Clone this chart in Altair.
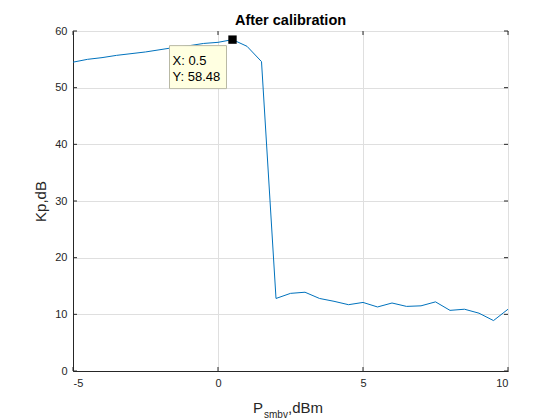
import altair as alt
import pandas as pd

# ---- data ----
p_smbv = [-5, -4.5, -4, -3.5, -3, -2.5, -2, -1.5, -1, -0.5, 0, 0.5, 1, 1.5,
          2, 2.5, 3, 3.5, 4, 4.5, 5, 5.5, 6, 6.5, 7, 7.5, 8, 8.5, 9, 9.5, 10]
kp_db = [54.5, 55.0, 55.3, 55.7, 56.0, 56.3, 56.7, 57.1, 57.4, 57.8, 58.0, 58.48, 57.3, 54.6,
         12.8, 13.7, 13.9, 12.8, 12.3, 11.7, 12.1, 11.3, 12.0, 11.4, 11.5, 12.2, 10.7, 10.9, 10.2, 8.9, 10.9]
x_ticks = [-5, 0, 5, 10]
y_ticks = [0, 10, 20, 30, 40, 50, 60]
tip_x = [0.5]
tip_y = [58.48]
tip_lines = ["X: 0.5", "Y: 58.48"]
title_text = "After calibration"

W, H = 435, 340
FONT = "Liberation Sans"
AX = "#262626"
BLUE = "#0072BD"

df = pd.DataFrame({"x": p_smbv, "y": kp_db})
tip = pd.DataFrame({"x": tip_x, "y": tip_y})
xt = pd.DataFrame({"v": x_ticks})
yt = pd.DataFrame({"v": y_ticks})

xs = alt.Scale(domain=[-5, 10], nice=False, zero=False)
ys = alt.Scale(domain=[0, 60], nice=False, zero=False)

xaxis = alt.Axis(values=x_ticks, grid=True, gridColor="#dfdfdf", ticks=False,
                 labelFontSize=11, labelColor=AX, labelFont=FONT, labelPadding=6,
                 labelExpr="'' + datum.value",
                 domainColor=AX, title=None)
yaxis = alt.Axis(values=y_ticks, grid=True, gridColor="#dfdfdf", ticks=False,
                 labelFontSize=11, labelColor=AX, labelFont=FONT, labelPadding=6,
                 labelExpr="'' + datum.value",
                 domainColor=AX, title="Kp,dB", titleFont=FONT, titleFontSize=15,
                 titleFontWeight="normal", titleColor=AX, titleAngle=270,
                 titleX=-33, titleY=H / 2, titleAlign="center", titleBaseline="middle")

line = alt.Chart(df).mark_line(color=BLUE, strokeWidth=1, clip=True).encode(
    x=alt.X("x:Q", scale=xs, axis=xaxis),
    y=alt.Y("y:Q", scale=ys, axis=yaxis),
)

# inward ticks on all four sides (MATLAB box style)
tb = alt.Chart(xt).mark_rule(color=AX, strokeWidth=1).encode(
    x=alt.X("v:Q", scale=xs), y=alt.value(H), y2=alt.value(H - 4))
tt = alt.Chart(xt).mark_rule(color=AX, strokeWidth=1).encode(
    x=alt.X("v:Q", scale=xs), y=alt.value(0), y2=alt.value(4))
tl = alt.Chart(yt).mark_rule(color=AX, strokeWidth=1).encode(
    y=alt.Y("v:Q", scale=ys), x=alt.value(0), x2=alt.value(4))
tr = alt.Chart(yt).mark_rule(color=AX, strokeWidth=1).encode(
    y=alt.Y("v:Q", scale=ys), x=alt.value(W), x2=alt.value(W - 4))

marker = alt.Chart(tip).mark_square(size=70, color="black", opacity=1).encode(
    x=alt.X("x:Q", scale=xs), y=alt.Y("y:Q", scale=ys))

box = alt.Chart(tip).mark_rect(fill="#ffffe1", stroke="#b9b9a5", strokeWidth=1,
                               xOffset=-63, x2Offset=-6, yOffset=6, y2Offset=49).encode(
    x=alt.X("x:Q", scale=xs), x2="x:Q",
    y=alt.Y("y:Q", scale=ys), y2="y:Q")

t1 = alt.Chart(tip).mark_text(text=tip_lines[0], align="left", baseline="middle",
                              dx=-60, dy=21, fontSize=13, font=FONT, color="black").encode(
    x=alt.X("x:Q", scale=xs), y=alt.Y("y:Q", scale=ys))
t2 = alt.Chart(tip).mark_text(text=tip_lines[1], align="left", baseline="middle",
                              dx=-60, dy=37, fontSize=13, font=FONT, color="black").encode(
    x=alt.X("x:Q", scale=xs), y=alt.Y("y:Q", scale=ys))

# title
ttl = alt.Chart(tip).mark_text(text=title_text, align="center", baseline="alphabetic",
                               fontSize=14.5, fontWeight="bold", font=FONT, color="black").encode(
    x=alt.value(W / 2), y=alt.value(-6.5))

# x-axis title with subscript
lab_p = alt.Chart(tip).mark_text(text="P", align="left", baseline="alphabetic",
                                 fontSize=15, font=FONT, color=AX).encode(
    x=alt.value(180), y=alt.value(H + 42))
lab_s = alt.Chart(tip).mark_text(text="smbv", align="left", baseline="alphabetic",
                                 fontSize=10, font=FONT, color=AX).encode(
    x=alt.value(191), y=alt.value(H + 47))
lab_u = alt.Chart(tip).mark_text(text=",dBm", align="left", baseline="alphabetic",
                                 fontSize=15, font=FONT, color=AX).encode(
    x=alt.value(215), y=alt.value(H + 42))

chart = alt.layer(line, tb, tt, tl, tr, box, marker, t1, t2, ttl, lab_p, lab_s, lab_u).properties(
    width=W, height=H,
    autosize=alt.AutoSizeParams(type="none"),
    padding={"left": 65, "top": 23, "right": 30, "bottom": 48},
    background="white",
).configure_view(stroke=AX, strokeWidth=1)

chart.save("out.html", embed_options={"renderer": "svg", "actions": False})
